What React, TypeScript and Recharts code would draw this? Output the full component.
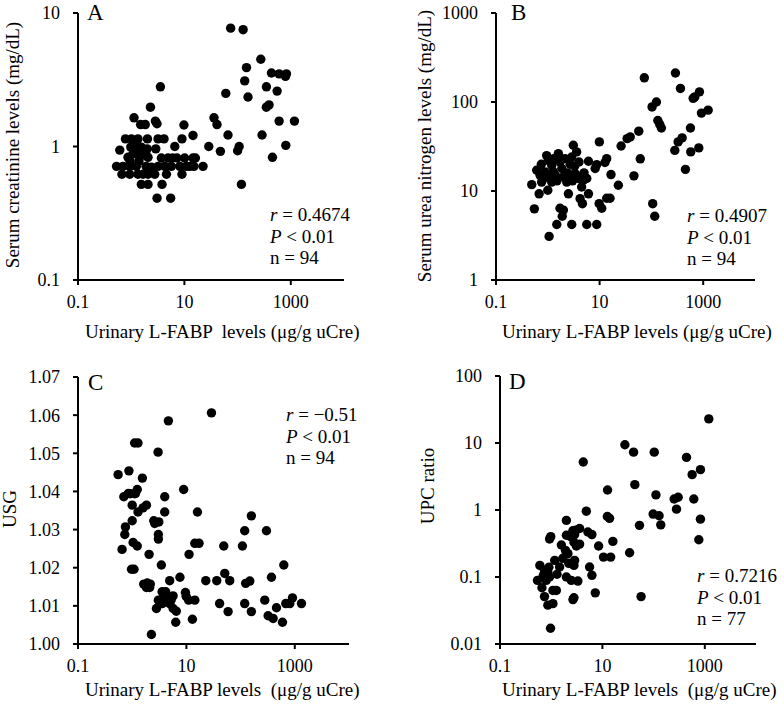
import React from "react";
import { ScatterChart, Scatter, XAxis, YAxis } from "recharts";

const FONT = '"Liberation Serif", "Times New Roman", Times, serif';

type Pt = [number, number];

// shared x axis (log, urinary L-FABP)
const xTicks = [0.1, 10, 1000];
const xDomain = [0.1, 10000];

// y axis ticks per panel
const creatinineTicks = [0.1, 1, 10];
const ureaTicks = [1, 10, 100, 1000];
const usgTicks = [1.0, 1.01, 1.02, 1.03, 1.04, 1.05, 1.06, 1.07];
const upcTicks = [0.01, 0.1, 1, 10, 100];

// annotation text
const panelLetters = ["A", "B", "C", "D"];
const rValues = ["0.4674", "0.4907", "\u22120.51", "0.7216"];
const pValues = ["0.01", "0.01", "0.01", "0.01"];
const nValues = ["94", "94", "94", "77"];
const xTitles = [
  "Urinary L-FABP  levels (\u03bcg/g uCre)",
  "Urinary L-FABP levels (\u03bcg/g uCre)",
  "Urinary L-FABP levels  (\u03bcg/g uCre)",
  "Urinary L-FABP levels  (\u03bcg/g uCre)",
];
const yTitles = [
  "Serum creatinine levels (mg/dL)",
  "Serum urea nitrogen levels (mg/dL)",
  "USG",
  "UPC ratio",
];

// [L-FABP, serum creatinine]
const creatininePoints: Pt[] = [
  [74, 7.7], [127, 7.5], [273, 4.5], [147, 3.9], [136, 3.1], [157, 2.35], [60, 2.5],
  [433, 3.55], [603, 3.5], [828, 3.5], [794, 3.35], [348, 2.8], [553, 2.6], [347, 1.97],
  [390, 2.05], [603, 1.55], [1170, 1.55], [288, 1.22], [805, 1.02], [452, 0.83], [118, 0.52],
  [66, 1.22], [107, 1.0], [100, 0.93], [47.5, 0.92], [28.7, 1.0], [36, 1.64], [41, 1.46],
  [3.54, 2.8], [2.3, 1.97], [1.13, 1.64], [1.5, 1.46], [1.84, 1.46], [2.85, 1.55], [3.06, 1.48],
  [9.8, 1.45], [14.5, 1.21], [9.0, 1.14], [6.6, 1.0],
  [0.78, 1.14], [1.01, 1.14], [1.34, 1.14], [2.02, 1.14], [3.19, 1.14], [4.14, 1.14],
  [0.98, 0.99], [1.25, 1.05], [1.55, 0.99], [2.0, 0.96], [1.08, 0.88], [1.44, 0.88], [1.8, 0.86],
  [0.87, 0.83], [2.07, 0.83], [0.61, 0.94], [2.9, 0.96],
  [3.69, 0.82], [4.92, 0.82], [7.26, 0.82], [10.1, 0.82], [14.5, 0.82], [16.1, 0.82],
  [0.53, 0.71], [0.7, 0.71], [0.94, 0.71], [1.25, 0.71], [3.19, 0.71], [4.27, 0.71], [5.69, 0.71],
  [8.2, 0.71], [10.9, 0.71], [15.1, 0.71], [22.4, 0.71],
  [0.67, 0.62], [0.94, 0.62], [1.34, 0.62], [1.67, 0.62], [2.07, 0.62], [2.77, 0.62], [9.0, 0.62],
  [1.55, 0.52], [2.07, 0.52], [3.8, 0.52], [3.06, 0.41], [5.52, 0.41],
  [1.2, 0.93], [1.6, 0.92], [0.95, 0.78], [1.4, 0.78], [2.4, 0.7], [1.9, 0.71], [4.6, 0.62],
  [12.5, 0.71], [6.0, 0.82],
];

// [L-FABP, serum urea nitrogen]
const ureaPoints: Pt[] = [
  [291, 212], [73, 187], [364, 142], [847, 130], [689, 114], [640, 110], [125, 100], [103, 88],
  [925, 75], [1245, 81], [133, 62], [145, 56], [156, 51], [567, 51], [57, 47], [39, 40.5],
  [34, 38.8], [26, 32], [392, 39.5], [328, 35.6], [283, 28.6], [575, 27.5], [822, 30.5],
  [454, 17.5], [61, 23], [46, 14.8], [106, 7.2], [116, 5.2], [9.9, 35.6],
  [3.11, 32.7], [3.6, 27.5], [1.6, 26.3], [0.95, 25], [1.02, 22], [1.19, 19.4], [1.72, 21.2],
  [2.15, 23.1], [2.9, 24.1], [4.0, 21.2], [6.1, 21.6], [8.8, 19.8], [8.2, 17.9], [13.7, 23.1],
  [12.7, 20.9], [16.6, 15.3], [23, 11.6], [0.49, 11.8], [0.68, 9.3], [1.0, 10.2], [0.61, 17.1],
  [0.71, 15], [0.82, 13.8], [1.1, 13.8], [0.88, 16.4], [1.28, 16.4], [0.76, 12.6], [1.19, 12.6],
  [1.86, 17.9], [2.0, 14.4], [2.69, 14.4], [2.32, 12.6], [3.36, 15.7], [3.9, 13.8], [4.86, 13.2],
  [5.65, 13.8], [4.5, 11.1], [6.1, 9.3], [2.5, 9.3], [4.2, 8.2], [4.66, 7.2], [9.8, 7.2],
  [11, 6.4], [13.7, 8.3], [15.9, 8.3], [0.55, 6.3], [1.72, 6.4], [2.0, 6.1], [1.9, 5.2],
  [1.49, 4.2], [2.9, 4.2], [5.65, 4.2], [8.8, 4.2], [1.06, 3.09],
  [1.4, 15], [2.4, 16], [3.0, 13], [1.5, 13], [0.9, 14.5], [2.7, 20], [5.0, 16], [3.3, 19],
  [1.3, 23], [4.4, 14.5], [0.75, 20],
];

// [L-FABP, urine specific gravity]
const usgPoints: Pt[] = [
  [29, 1.0606], [4.65, 1.0585], [1.11, 1.0527], [1.28, 1.0527], [3.0, 1.0503], [0.55, 1.0444],
  [0.87, 1.0454], [1.54, 1.0435], [8.9, 1.0405], [0.7, 1.0386], [0.92, 1.0394], [1.11, 1.0394],
  [1.24, 1.0405], [3.98, 1.0386], [1.0, 1.0364], [1.28, 1.0346], [1.58, 1.0357], [1.83, 1.0364],
  [3.98, 1.0346], [16, 1.0346], [158, 1.0336], [1.0, 1.0323], [2.5, 1.0323], [2.6, 1.0316],
  [0.75, 1.0307], [0.73, 1.0287], [119, 1.0297], [300, 1.0297], [3.04, 1.0287], [3.04, 1.0275],
  [1.04, 1.0266], [1.24, 1.0257], [0.65, 1.0248], [14.3, 1.0264], [17.1, 1.0264], [48.9, 1.0257],
  [108, 1.0257], [2.05, 1.0235], [11.2, 1.0235], [0.97, 1.0196], [1.08, 1.0196], [3.45, 1.0207],
  [627, 1.0207], [4.92, 1.0166], [7.6, 1.0175], [22.8, 1.0166], [36.3, 1.0166], [51, 1.0185],
  [63, 1.0166], [124, 1.0159], [148, 1.0165], [371, 1.0175], [1.63, 1.0157], [1.83, 1.0148],
  [2.16, 1.0157], [2.1, 1.0148], [9.6, 1.0135], [11, 1.0115], [3.56, 1.0137], [4.15, 1.0137],
  [3.04, 1.0115], [3.56, 1.0106], [5.68, 1.0126], [4.92, 1.0106], [14.3, 1.0115], [2.8, 1.0093],
  [5.68, 1.0093], [6.5, 1.0086], [41, 1.0106], [119, 1.0106], [279, 1.0115], [906, 1.0121],
  [809, 1.0106], [682, 1.0106], [1327, 1.0106], [58.8, 1.0085], [158, 1.0085], [12.9, 1.0065],
  [6.35, 1.0057], [322, 1.0074], [398, 1.0067], [459, 1.0095], [592, 1.0057], [2.26, 1.0025],
  [1.15, 1.0395], [3.1, 1.032], [0.85, 1.0395], [2.0, 1.0155], [4.4, 1.0125], [4.0, 1.011],
  [5.2, 1.0115], [9.9, 1.0125], [1.9, 1.016], [3.8, 1.0125],
];

// [L-FABP, urine protein:creatinine ratio]
const upcPoints: Pt[] = [
  [1197, 22.9], [27.5, 9.4], [40.6, 7.3], [103, 7.3], [439, 6.1], [4.23, 5.2], [822, 4.0],
  [566, 3.37], [43, 2.39], [12.6, 1.99], [111, 1.68], [252, 1.46], [302, 1.55], [610, 1.46],
  [280, 1.03], [98, 0.87], [128, 0.82], [138, 0.6], [822, 0.73], [764, 0.36],
  [4.85, 0.96], [12.5, 0.8], [13.8, 0.75], [1.98, 0.7], [53, 0.59], [0.98, 0.4], [0.93, 0.37],
  [1.98, 0.42], [2.65, 0.49], [2.87, 0.43], [3.59, 0.53], [5.2, 0.47], [6.24, 0.43], [2.78, 0.33],
  [3.59, 0.31], [3.1, 0.29], [1.58, 0.3], [8.43, 0.29], [16, 0.34], [10.5, 0.198], [14.5, 0.198],
  [34, 0.23], [2.12, 0.223], [1.69, 0.19], [2.87, 0.177], [2.78, 0.149], [1.17, 0.177],
  [1.46, 0.141], [0.6, 0.149], [0.74, 0.126], [0.86, 0.118], [0.93, 0.1], [0.8, 0.089],
  [0.54, 0.089], [0.66, 0.069], [1.08, 0.063], [1.26, 0.063], [0.74, 0.051], [0.86, 0.038],
  [1.08, 0.04], [1.98, 0.1], [2.47, 0.089], [3.32, 0.087], [5.62, 0.141], [6.24, 0.106],
  [2.78, 0.049], [2.66, 0.046], [7.26, 0.058], [0.97, 0.0172], [57, 0.051],
  [2.2, 0.16], [1.3, 0.11], [0.7, 0.105], [2.4, 0.4], [3.0, 0.5], [1.9, 0.25], [0.9, 0.14],
];

const axisStroke = { stroke: "#000", strokeWidth: 2 };
const tickStyle = { fill: "#000", fontSize: 18, fontFamily: FONT };

const Dot = (props: any) => {
  if (props.cx == null || props.cy == null) return null;
  return <circle cx={props.cx} cy={props.cy} r={4.7} fill="#000" />;
};

const XTitle = ({ tx, ty, text }: any) => (
  <text x={tx} y={ty} fontFamily={FONT} fontSize={19} fill="#000" style={{ whiteSpace: "pre" }}>
    {text}
  </text>
);

const YTitle = ({ tx, ty, text }: any) => (
  <text
    x={tx}
    y={ty}
    transform={`rotate(-90 ${tx} ${ty})`}
    textAnchor="middle"
    fontFamily={FONT}
    fontSize={19}
    fill="#000"
  >
    {text}
  </text>
);

type PanelProps = {
  idx: number;
  left: number;
  top: number;
  width: number;
  height: number;
  margin: { top: number; right: number; bottom: number; left: number };
  yWidth: number;
  points: Pt[];
  yScale: "log" | "linear";
  yDomain: number[];
  yTicks: number[];
  yFormat?: (v: number) => string;
  xTitlePos: [number, number];
  yTitlePos: [number, number];
  letterPos: [number, number];
  statsPos: [number, number];
};

const Panel = (p: PanelProps) => {
  const data = p.points.map(([x, y]) => ({ x, y }));
  const [sx, sy] = p.statsPos;
  return (
    <div style={{ position: "absolute", left: p.left, top: p.top, width: p.width, height: p.height }}>
      <ScatterChart width={p.width} height={p.height} margin={p.margin}>
        <XAxis
          type="number"
          dataKey="x"
          scale="log"
          domain={xDomain}
          ticks={xTicks}
          interval={0}
          allowDataOverflow
          height={30}
          axisLine={axisStroke}
          tickLine={axisStroke}
          tickSize={5}
          tickMargin={10}
          tick={tickStyle}
          tickFormatter={(v: number) => String(v)}
          label={<XTitle tx={p.xTitlePos[0]} ty={p.xTitlePos[1]} text={xTitles[p.idx]} />}
        />
        <YAxis
          type="number"
          dataKey="y"
          scale={p.yScale}
          domain={p.yDomain}
          ticks={p.yTicks}
          interval={0}
          allowDataOverflow
          width={p.yWidth}
          axisLine={axisStroke}
          tickLine={axisStroke}
          tickSize={5}
          tickMargin={13}
          tick={tickStyle}
          tickFormatter={p.yFormat ?? ((v: number) => String(v))}
          label={<YTitle tx={p.yTitlePos[0]} ty={p.yTitlePos[1]} text={yTitles[p.idx]} />}
        />
        <Scatter data={data} shape={Dot} isAnimationActive={false} />
      </ScatterChart>
      <svg
        width={p.width}
        height={p.height}
        style={{ position: "absolute", left: 0, top: 0, pointerEvents: "none" }}
        fontFamily={FONT}
        fill="#000"
      >
        <text x={p.letterPos[0]} y={p.letterPos[1]} fontSize={23}>
          {panelLetters[p.idx]}
        </text>
        <text x={sx} y={sy} fontSize={19}>
          <tspan fontStyle="italic">r</tspan> = {rValues[p.idx]}
        </text>
        <text x={sx} y={sy + 21.7} fontSize={19}>
          <tspan fontStyle="italic">P</tspan> &lt; {pValues[p.idx]}
        </text>
        <text x={sx} y={sy + 43.4} fontSize={19}>
          n = {nValues[p.idx]}
        </text>
      </svg>
    </div>
  );
};

export default function App() {
  return (
    <div
      style={{
        position: "absolute",
        left: 0,
        top: 0,
        width: 784,
        height: 705,
        background: "#fff",
        fontFamily: FONT,
      }}
    >
      <Panel
        idx={0}
        left={0}
        top={0}
        width={392}
        height={352}
        margin={{ top: 13, right: 48, bottom: 42, left: 0 }}
        yWidth={78}
        points={creatininePoints}
        yScale="log"
        yDomain={[0.1, 10]}
        yTicks={creatinineTicks}
        xTitlePos={[85, 338]}
        yTitlePos={[19, 145]}
        letterPos={[87, 20]}
        statsPos={[270, 221]}
      />
      <Panel
        idx={1}
        left={392}
        top={0}
        width={392}
        height={352}
        margin={{ top: 13, right: 29, bottom: 42, left: 0 }}
        yWidth={104}
        points={ureaPoints}
        yScale="log"
        yDomain={[1, 1000]}
        yTicks={ureaTicks}
        xTitlePos={[110, 338]}
        yTitlePos={[39, 146]}
        letterPos={[119, 20]}
        statsPos={[295, 222]}
      />
      <Panel
        idx={2}
        left={0}
        top={352}
        width={392}
        height={353}
        margin={{ top: 25, right: 43, bottom: 31, left: 0 }}
        yWidth={78}
        points={usgPoints}
        yScale="linear"
        yDomain={[1.0, 1.07]}
        yTicks={usgTicks}
        yFormat={(v: number) => v.toFixed(2)}
        xTitlePos={[85, 344]}
        yTitlePos={[16, 157]}
        letterPos={[88, 38]}
        statsPos={[286, 69]}
      />
      <Panel
        idx={3}
        left={392}
        top={352}
        width={392}
        height={353}
        margin={{ top: 24, right: 28, bottom: 31, left: 0 }}
        yWidth={108}
        points={upcPoints}
        yScale="log"
        yDomain={[0.01, 100]}
        yTicks={upcTicks}
        xTitlePos={[110, 344]}
        yTitlePos={[42, 134]}
        letterPos={[117, 37]}
        statsPos={[305, 230]}
      />
    </div>
  );
}
